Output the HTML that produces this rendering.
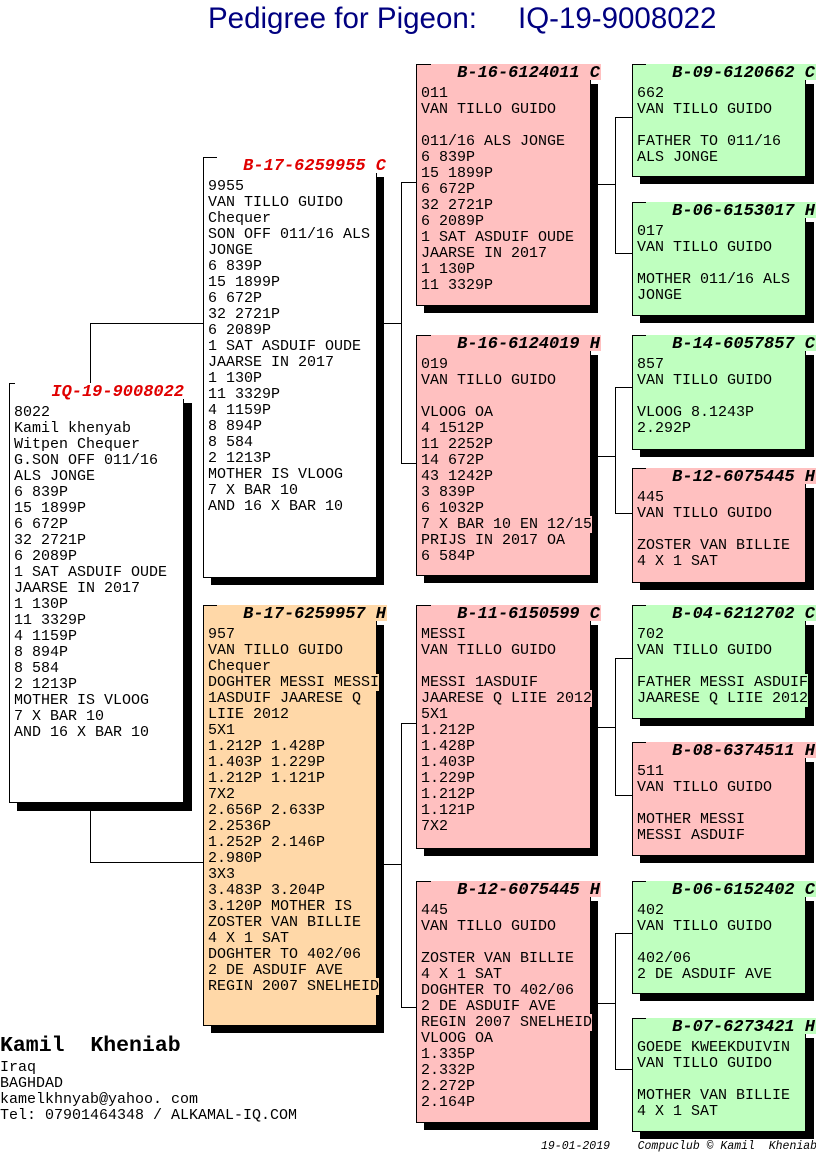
<!DOCTYPE html>
<html><head><meta charset="utf-8">
<style>
*{margin:0;padding:0;box-sizing:border-box}
body{width:816px;height:1172px;background:#fff;position:relative;overflow:hidden;font-family:"Liberation Mono",monospace}
.h1{position:absolute;top:2px;font-family:"Liberation Sans",sans-serif;font-size:29.5px;color:#000080;white-space:nowrap}
.sh{position:absolute;background:#000}
.bx{position:absolute;border:1px solid #000;font-size:15px;line-height:16px;padding:21px 0 0 4px;white-space:nowrap}
.bx div{height:16px}
.bx span{background:var(--c)}
.tt{position:absolute;top:-1px;height:20px;font-weight:bold;font-style:italic;font-size:17px;line-height:20px;text-align:right;padding-right:1px;white-space:pre;background:var(--c)}
.red{color:#e00000}
.w{--c:#fff;background:#fff}
.p{--c:#ffc0c0;background:#ffc0c0}
.g{--c:#bfffbf;background:#bfffbf}
.o{--c:#ffd8a8;background:#ffd8a8}
.l{position:absolute;background:#000}
</style></head><body>
<div class="h1" style="left:208px">Pedigree for Pigeon:</div>
<div class="h1" style="left:518px">IQ-19-9008022</div>

<!-- connectors -->
<div class="l" style="left:90px;top:323px;width:1px;height:60px"></div>
<div class="l" style="left:90px;top:323px;width:113px;height:1px"></div>
<div class="l" style="left:90px;top:803px;width:1px;height:60px"></div>
<div class="l" style="left:90px;top:862px;width:113px;height:1px"></div>

<div class="l" style="left:384px;top:323px;width:18px;height:1px"></div>
<div class="l" style="left:401px;top:182px;width:1px;height:282px"></div>
<div class="l" style="left:401px;top:182px;width:15px;height:1px"></div>
<div class="l" style="left:401px;top:463px;width:15px;height:1px"></div>

<div class="l" style="left:384px;top:864px;width:18px;height:1px"></div>
<div class="l" style="left:401px;top:723px;width:1px;height:285px"></div>
<div class="l" style="left:401px;top:723px;width:15px;height:1px"></div>
<div class="l" style="left:401px;top:1007px;width:15px;height:1px"></div>

<div class="l" style="left:598px;top:184px;width:18px;height:1px"></div>
<div class="l" style="left:615px;top:117px;width:1px;height:137px"></div>
<div class="l" style="left:615px;top:117px;width:17px;height:1px"></div>
<div class="l" style="left:615px;top:253px;width:17px;height:1px"></div>

<div class="l" style="left:598px;top:456px;width:18px;height:1px"></div>
<div class="l" style="left:615px;top:387px;width:1px;height:127px"></div>
<div class="l" style="left:615px;top:387px;width:17px;height:1px"></div>
<div class="l" style="left:615px;top:513px;width:17px;height:1px"></div>

<div class="l" style="left:598px;top:727px;width:18px;height:1px"></div>
<div class="l" style="left:615px;top:658px;width:1px;height:138px"></div>
<div class="l" style="left:615px;top:658px;width:17px;height:1px"></div>
<div class="l" style="left:615px;top:795px;width:17px;height:1px"></div>

<div class="l" style="left:598px;top:1003px;width:18px;height:1px"></div>
<div class="l" style="left:615px;top:933px;width:1px;height:137px"></div>
<div class="l" style="left:615px;top:933px;width:17px;height:1px"></div>
<div class="l" style="left:615px;top:1069px;width:17px;height:1px"></div>

<!-- Gen1 -->
<div class="sh" style="left:17px;top:403px;width:175px;height:408px"></div>
<div class="bx w" style="left:9px;top:383px;width:175px;height:420px">
<div class="tt red" style="right:-2px;width:170px">IQ-19-9008022</div>
<div>8022</div><div>Kamil khenyab</div><div>Witpen Chequer</div><div>G.SON OFF 011/16</div><div>ALS JONGE</div><div>6 839P</div><div>15 1899P</div><div>6 672P</div><div>32 2721P</div><div>6 2089P</div><div>1 SAT ASDUIF OUDE</div><div>JAARSE IN 2017</div><div>1 130P</div><div>11 3329P</div><div>4 1159P</div><div>8 894P</div><div>8 584</div><div>2 1213P</div><div>MOTHER IS VLOOG</div><div>7 X BAR 10</div><div>AND 16 X BAR 10</div>
</div>

<!-- Gen2 -->
<div class="sh" style="left:211px;top:177px;width:173px;height:408px"></div>
<div class="bx w" style="left:203px;top:157px;width:174px;height:421px">
<div class="tt red" style="right:-11px;width:170px">B-17-6259955 C</div>
<div>9955</div><div>VAN TILLO GUIDO</div><div>Chequer</div><div>SON OFF 011/16 ALS</div><div>JONGE</div><div>6 839P</div><div>15 1899P</div><div>6 672P</div><div>32 2721P</div><div>6 2089P</div><div>1 SAT ASDUIF OUDE</div><div>JAARSE IN 2017</div><div>1 130P</div><div>11 3329P</div><div>4 1159P</div><div>8 894P</div><div>8 584</div><div>2 1213P</div><div>MOTHER IS VLOOG</div><div>7 X BAR 10</div><div>AND 16 X BAR 10</div>
</div>

<div class="sh" style="left:211px;top:625px;width:173px;height:408px"></div>
<div class="bx o" style="left:203px;top:605px;width:174px;height:421px">
<div class="tt" style="right:-11px;width:170px">B-17-6259957 H</div>
<div>957</div><div>VAN TILLO GUIDO</div><div>Chequer</div><div><span>DOGHTER MESSI MESSI</span></div><div>1ASDUIF JAARESE Q</div><div>LIIE 2012</div><div>5X1</div><div>1.212P 1.428P</div><div>1.403P 1.229P</div><div>1.212P 1.121P</div><div>7X2</div><div>2.656P 2.633P</div><div>2.2536P</div><div>1.252P 2.146P</div><div>2.980P</div><div>3X3</div><div>3.483P 3.204P</div><div>3.120P MOTHER IS</div><div>ZOSTER VAN BILLIE</div><div>4 X 1 SAT</div><div>DOGHTER TO 402/06</div><div>2 DE ASDUIF AVE</div><div><span>REGIN 2007 SNELHEID</span></div>
</div>

<!-- Gen3 -->
<div class="sh" style="left:424px;top:84px;width:174px;height:229px"></div>
<div class="bx p" style="left:416px;top:64px;width:175px;height:242px">
<div class="tt" style="right:-11px;width:170px">B-16-6124011 C</div>
<div>011</div><div>VAN TILLO GUIDO</div><div></div><div>011/16 ALS JONGE</div><div>6 839P</div><div>15 1899P</div><div>6 672P</div><div>32 2721P</div><div>6 2089P</div><div>1 SAT ASDUIF OUDE</div><div>JAARSE IN 2017</div><div>1 130P</div><div>11 3329P</div>
</div>

<div class="sh" style="left:424px;top:355px;width:174px;height:228px"></div>
<div class="bx p" style="left:416px;top:335px;width:175px;height:241px">
<div class="tt" style="right:-11px;width:170px">B-16-6124019 H</div>
<div>019</div><div>VAN TILLO GUIDO</div><div></div><div>VLOOG OA</div><div>4 1512P</div><div>11 2252P</div><div>14 672P</div><div>43 1242P</div><div>3 839P</div><div>6 1032P</div><div><span>7 X BAR 10 EN 12/15</span></div><div>PRIJS IN 2017 OA</div><div>6 584P</div>
</div>

<div class="sh" style="left:424px;top:625px;width:174px;height:231px"></div>
<div class="bx p" style="left:416px;top:605px;width:175px;height:244px">
<div class="tt" style="right:-11px;width:170px">B-11-6150599 C</div>
<div>MESSI</div><div>VAN TILLO GUIDO</div><div></div><div>MESSI 1ASDUIF</div><div><span>JAARESE Q LIIE 2012</span></div><div>5X1</div><div>1.212P</div><div>1.428P</div><div>1.403P</div><div>1.229P</div><div>1.212P</div><div>1.121P</div><div>7X2</div>
</div>

<div class="sh" style="left:424px;top:901px;width:174px;height:229px"></div>
<div class="bx p" style="left:416px;top:881px;width:175px;height:242px">
<div class="tt" style="right:-11px;width:170px">B-12-6075445 H</div>
<div>445</div><div>VAN TILLO GUIDO</div><div></div><div>ZOSTER VAN BILLIE</div><div>4 X 1 SAT</div><div>DOGHTER TO 402/06</div><div>2 DE ASDUIF AVE</div><div><span>REGIN 2007 SNELHEID</span></div><div>VLOOG OA</div><div>1.335P</div><div>2.332P</div><div>2.272P</div><div>2.164P</div>
</div>

<!-- Gen4 -->
<div class="sh" style="left:640px;top:84px;width:174px;height:100px"></div>
<div class="bx g" style="left:632px;top:64px;width:174px;height:113px">
<div class="tt" style="right:-11px;width:170px">B-09-6120662 C</div>
<div>662</div><div>VAN TILLO GUIDO</div><div></div><div>FATHER TO 011/16</div><div>ALS JONGE</div>
</div>
<div class="sh" style="left:640px;top:222px;width:174px;height:101px"></div>
<div class="bx g" style="left:632px;top:202px;width:174px;height:114px">
<div class="tt" style="right:-11px;width:170px">B-06-6153017 H</div>
<div>017</div><div>VAN TILLO GUIDO</div><div></div><div>MOTHER 011/16 ALS</div><div>JONGE</div>
</div>
<div class="sh" style="left:640px;top:355px;width:174px;height:102px"></div>
<div class="bx g" style="left:632px;top:335px;width:174px;height:115px">
<div class="tt" style="right:-11px;width:170px">B-14-6057857 C</div>
<div>857</div><div>VAN TILLO GUIDO</div><div></div><div>VLOOG 8.1243P</div><div>2.292P</div>
</div>
<div class="sh" style="left:640px;top:488px;width:174px;height:102px"></div>
<div class="bx p" style="left:632px;top:468px;width:174px;height:115px">
<div class="tt" style="right:-11px;width:170px">B-12-6075445 H</div>
<div>445</div><div>VAN TILLO GUIDO</div><div></div><div>ZOSTER VAN BILLIE</div><div>4 X 1 SAT</div>
</div>
<div class="sh" style="left:640px;top:625px;width:174px;height:101px"></div>
<div class="bx g" style="left:632px;top:605px;width:174px;height:114px">
<div class="tt" style="right:-11px;width:170px">B-04-6212702 C</div>
<div>702</div><div>VAN TILLO GUIDO</div><div></div><div><span>FATHER MESSI ASDUIF</span></div><div><span>JAARESE Q LIIE 2012</span></div>
</div>
<div class="sh" style="left:640px;top:762px;width:174px;height:101px"></div>
<div class="bx p" style="left:632px;top:742px;width:174px;height:114px">
<div class="tt" style="right:-11px;width:170px">B-08-6374511 H</div>
<div>511</div><div>VAN TILLO GUIDO</div><div></div><div>MOTHER MESSI</div><div>MESSI ASDUIF</div>
</div>
<div class="sh" style="left:640px;top:901px;width:174px;height:100px"></div>
<div class="bx g" style="left:632px;top:881px;width:174px;height:113px">
<div class="tt" style="right:-11px;width:170px">B-06-6152402 C</div>
<div>402</div><div>VAN TILLO GUIDO</div><div></div><div>402/06</div><div>2 DE ASDUIF AVE</div>
</div>
<div class="sh" style="left:640px;top:1038px;width:174px;height:101px"></div>
<div class="bx g" style="left:632px;top:1018px;width:174px;height:114px">
<div class="tt" style="right:-11px;width:170px">B-07-6273421 H</div>
<div>GOEDE KWEEKDUIVIN</div><div>VAN TILLO GUIDO</div><div></div><div>MOTHER VAN BILLIE</div><div>4 X 1 SAT</div>
</div>

<!-- footer -->
<div style="position:absolute;left:0;top:1033px;font-size:21.5px;line-height:26px;font-weight:bold;white-space:pre">Kamil  Kheniab</div>
<div style="position:absolute;left:0;top:1060px;font-size:15px;line-height:16px;white-space:pre">Iraq
BAGHDAD
kamelkhnyab@yahoo. com
Tel: 07901464348 / ALKAMAL-IQ.COM</div>
<div style="position:absolute;left:541px;top:1140px;font-size:11.5px;line-height:14px;font-style:italic;white-space:pre">19-01-2019    Compuclub © Kamil  Kheniab</div>
</body></html>
